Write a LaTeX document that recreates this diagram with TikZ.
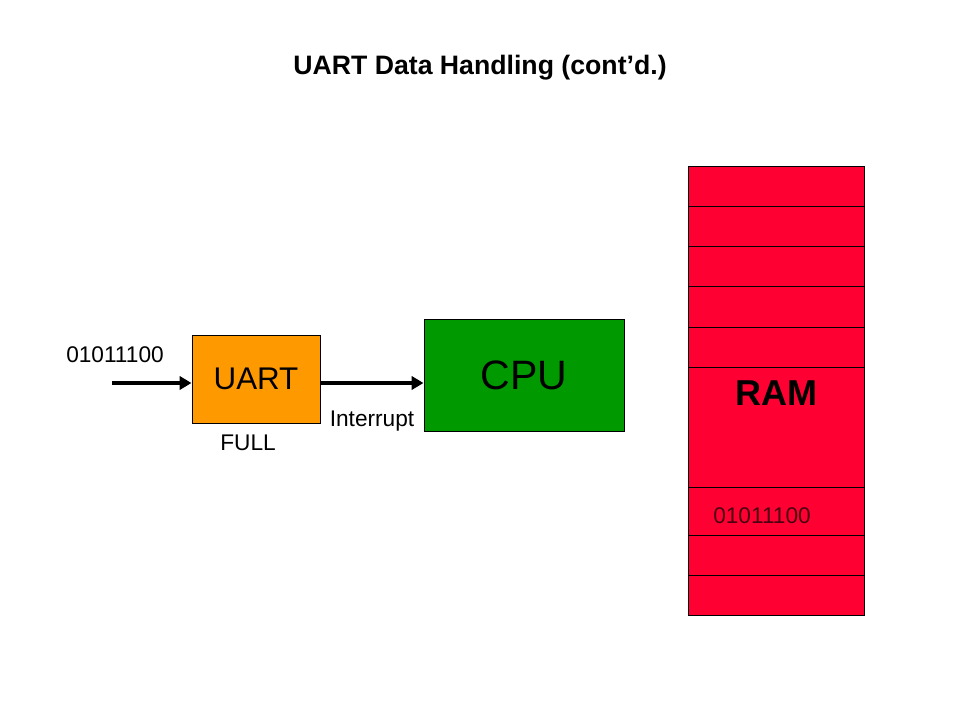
\documentclass[tikz,border=0pt]{standalone}
\usepackage{fontspec}
\setmainfont{Liberation Sans}
\usetikzlibrary{arrows.meta}
\definecolor{uartorange}{HTML}{FF9900}
\definecolor{cpugreen}{HTML}{009900}
\definecolor{ramred}{HTML}{FF0033}
\definecolor{ramtext}{HTML}{4A0010}
\begin{document}
\begin{tikzpicture}[x=0.75pt,y=-0.75pt,
  box/.style={draw=black, line width=0.75pt, inner sep=0pt},
  flow/.style={line width=3pt, -{Triangle[length=9pt,width=10pt]}},
  lbl/.style={anchor=base, font=\fontsize{17}{20}\selectfont, inner sep=0pt}]
\useasboundingbox (0,0) rectangle (960,720);
\fill[white] (0,0) rectangle (960,720);
\node[anchor=base, inner sep=0pt, font=\bfseries\fontsize{20}{24}\selectfont] (title) at (480,75) {UART Data Handling (cont’d.)};
\node[box, fill=uartorange, minimum width=96pt, minimum height=66pt, font=\fontsize{23.5}{28}\selectfont] (uart) at (256,379) {UART};
\node[box, fill=cpugreen, minimum width=150pt, minimum height=84pt, font=\fontsize{30.8}{36}\selectfont] (cpu) at (524,375) {CPU};
\node[box, fill=ramred, minimum width=132pt, minimum height=336pt] (ram) at (776,391) {};
\foreach \y in {207,247,287,327,367,487,535,575}
  \draw[line width=0.75pt] (688,\y) -- (864,\y);
\node[anchor=base, inner sep=0pt, font=\bfseries\fontsize{27}{32}\selectfont] (ramlbl) at (776,405) {RAM};
\node[lbl, text=ramtext] (ramdata) at (762,523) {01011100};
\coordinate (in) at (112,383);
\node[lbl] (indata) at (115,362) {01011100};
\node[lbl] (full) at (248,450) {FULL};
\node[lbl] (intr) at (372,426) {Interrupt};
\draw[flow] (in) -- (uart.west |- in);
\draw[flow] (uart.east |- in) -- (cpu.west |- in);
\end{tikzpicture}
\end{document}
